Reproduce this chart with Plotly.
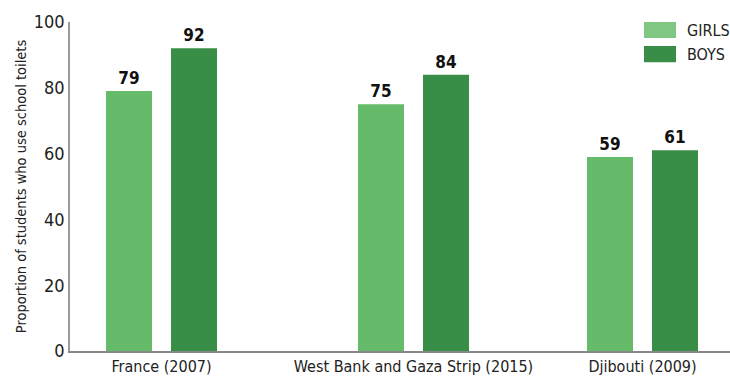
import plotly.graph_objects as go

# Survey data: share of students who use school toilets (%)
countries = ["France (2007)", "West Bank and Gaza Strip (2015)", "Djibouti (2009)"]
girls = [79, 75, 59]
boys = [92, 84, 61]
y_ticks = [0, 20, 40, 60, 80, 100]

# Layout helpers (x axis measured in pixel-like units across the plot width)
group_x = [161.5, 413.5, 642.5]
bar_w = 46
girls_color = "#66BB6A"
boys_color = "#388E46"
legend_girls = "#81C784"
FONT = "Liberation Sans Narrow, DejaVu Sans Condensed, Roboto, sans-serif"

fig = go.Figure()
fig.add_trace(go.Bar(
    x=group_x, y=girls, name="GIRLS", width=bar_w, offset=-55.5,
    marker=dict(color=girls_color, line=dict(width=0)),
    text=girls, textposition="outside", cliponaxis=False,
    textfont=dict(family=FONT, size=17, color="#111"),
    texttemplate="<b>%{y}</b>", showlegend=False,
))
fig.add_trace(go.Bar(
    x=group_x, y=boys, name="BOYS", width=bar_w, offset=9.5,
    marker=dict(color=boys_color, line=dict(width=0)),
    text=boys, textposition="outside", cliponaxis=False,
    textfont=dict(family=FONT, size=17, color="#111"),
    texttemplate="<b>%{y}</b>", showlegend=False,
))

# Custom legend (wide swatches)
for i, (lbl, col) in enumerate([("GIRLS", legend_girls), ("BOYS", boys_color)]):
    y0 = 1.0 - i * 0.073
    fig.add_shape(type="rect", xref="paper", yref="paper",
                  x0=0.8697, x1=0.9182, y0=y0 - 0.049, y1=y0,
                  fillcolor=col, line=dict(width=0))
    fig.add_annotation(xref="paper", yref="paper", x=0.932, y=y0 - 0.0245,
                       text=lbl, showarrow=False, xanchor="left", yanchor="middle",
                       font=dict(family=FONT, size=16, color="#222"))

fig.update_layout(
    width=730, height=379,
    margin=dict(l=70, r=0, t=22, b=28),
    plot_bgcolor="white", paper_bgcolor="white",
    font=dict(family=FONT, color="#222"),
    barmode="overlay",
)
fig.update_xaxes(
    range=[70, 730], tickmode="array", tickvals=group_x, ticktext=countries,
    showgrid=False, zeroline=False, showline=True, linecolor="#888", linewidth=1.5,
    ticks="", tickfont=dict(family=FONT, size=16, color="#222"),
)
fig.update_yaxes(
    range=[0, 100], tickmode="array", tickvals=y_ticks,
    showgrid=False, zeroline=False, showline=True, linecolor="#999", linewidth=1.5,
    ticks="", tickfont=dict(family=FONT, size=18, color="#222"),
    title=dict(text="Proportion of students who use school toilets",
               font=dict(family=FONT, size=14.5, color="#222"), standoff=4),
)

fig.write_html("out.html")
